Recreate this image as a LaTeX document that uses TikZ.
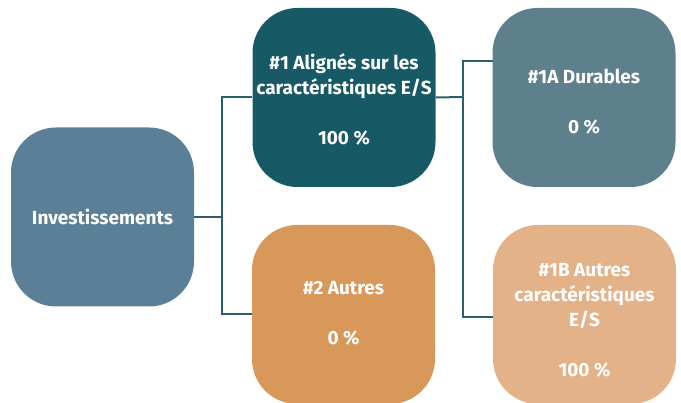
\documentclass[tikz,border=0pt]{standalone}
\usepackage{fontspec}
\setmainfont{Fira Sans}[Ligatures=NoCommon]
\usetikzlibrary{backgrounds}
\definecolor{cinv}{HTML}{5A7F96}
\definecolor{cone}{HTML}{175A66}
\definecolor{coneA}{HTML}{5E7F8C}
\definecolor{ctwo}{HTML}{D8985A}
\definecolor{coneB}{HTML}{E3B288}
\definecolor{cline}{HTML}{2A5F6B}
\newcommand{\boxtext}[2]{\raisebox{#1}[\height][\depth]{\begin{tabular}{@{}c@{}}#2\end{tabular}}}
\begin{document}
\begin{tikzpicture}[x=1pt,y=-1pt,
  box/.style={rectangle, rounded corners=45pt, minimum width=183pt, minimum height=179pt,
    text=white, inner sep=0pt,
    font=\fontsize{19}{25}\selectfont\bfseries},
  conn/.style={draw=cline, line width=2pt}]
\useasboundingbox (0,0) rectangle (681,403);
\node[box, fill=cinv] (inv) at (102.5,217) {\boxtext{-3pt}{Investissements}};
\node[box, fill=cone] (n1) at (344,97.5) {\boxtext{-5pt}{\#1 Alignés sur les\\caractéristiques E/S\\[25pt]100 \%}};
\node[box, fill=ctwo] (n2) at (343.5,314.5) {\boxtext{0pt}{\#2 Autres\\[25pt]0 \%}};
\node[box, fill=coneA] (n1a) at (584,97.5) {\boxtext{-6pt}{\#1A Durables\\[25pt]0 \%}};
\node[box, fill=coneB] (n1b) at (584.5,314.5) {\boxtext{-7pt}{\#1B Autres\\caractéristiques\\E/S\\[25pt]100 \%}};
\coordinate (j1) at (222,217);
\coordinate (j2) at (463,97);
\coordinate (c1a) at (493,61);
\coordinate (c1b) at (493,317);
\begin{scope}[on background layer]
\draw[conn] (inv.east) -- (j1);
\draw[conn] (n1.west) -| (j1);
\draw[conn] (j1) |- (n2.west);
\draw[conn] (n1.east) -- (j2);
\draw[conn] (j2) |- (c1a);
\draw[conn] (j2) |- (c1b);
\end{scope}
\end{tikzpicture}
\end{document}
